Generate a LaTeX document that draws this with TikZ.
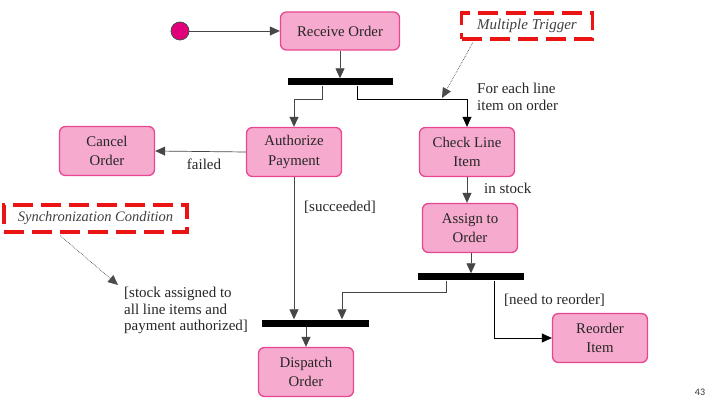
\documentclass[tikz,border=0pt]{standalone}
\usepackage{fontspec}
\setmainfont{Liberation Serif}
\newfontfamily\pagefont{Carlito}
\usepackage{tikz}
\usetikzlibrary{positioning, arrows.meta, calc}
\definecolor{actFill}{RGB}{245, 170, 206}
\definecolor{actLine}{RGB}{232, 70, 145}
\definecolor{startDot}{RGB}{226, 0, 122}
\definecolor{noteRed}{RGB}{235, 20, 20}
\definecolor{flowGray}{RGB}{70, 70, 70}

\begin{document}
\begin{tikzpicture}[
    x=1pt, y=-1pt,
    font=\fontsize{14.8}{19.5}\selectfont,
    actbox/.style={
        rectangle, rounded corners=6pt, draw=actLine, line width=1.3pt,
        fill=actFill, minimum width=95pt, minimum height=49pt,
        align=center, inner sep=2pt, text=black!85
    },
    syncbar/.style={rectangle, fill=black, inner sep=0pt, minimum height=7pt},
    notebox/.style={
        rectangle, draw=noteRed, line width=3.5pt, dash pattern=on 20pt off 8pt,
        font=\fontsize{15}{17}\selectfont\itshape, text=black!75, inner sep=0pt
    },
    lbl/.style={font=\fontsize{15}{16.5}\selectfont, text=black!85, inner sep=0pt, align=left},
    flow/.style={-{Triangle[length=10pt, width=9pt]}, line width=0.7pt, flowGray},
    hint/.style={-{Triangle[length=10pt, width=9pt]}, densely dotted, line width=0.7pt, black!70}
]
\useasboundingbox (0,0) rectangle (726,406);

% start and first action
\node[circle, draw=black!70, line width=0.8pt, fill=startDot, minimum size=18pt, inner sep=0pt] (start) at (180,31) {};
\node[actbox, minimum width=119pt, minimum height=38pt] (receive) at (340,31) {Receive Order};
\node[syncbar, minimum width=105pt] (fork1) at (340,82) {};

% actions
\node[actbox] (auth)     at (294,152) {Authorize\\Payment};
\node[actbox] (cancel)   at (107,151) {Cancel\\Order};
\node[actbox] (check)    at (467,152) {Check Line\\Item};
\node[actbox] (assign)   at (470,228) {Assign to\\Order};
\node[syncbar, minimum width=106pt] (fork2) at (471,277) {};
\node[actbox] (reorder)  at (600,338) {Reorder\\Item};
\node[syncbar, minimum width=107pt] (join3) at (315,323) {};
\node[actbox] (dispatch) at (306,372) {Dispatch\\Order};

% notes
\node[notebox, minimum width=131pt, minimum height=26pt] (multi) at (527,26) {Multiple Trigger};
\node[notebox, minimum width=183pt, minimum height=27pt, font=\fontsize{14.5}{17}\selectfont\itshape] (syncnote) at (95.5,218.5) {Synchronization Condition};
\coordinate (multitip) at (442,98);
\coordinate (synctip) at (118,285);

% labels
\node[lbl, anchor=north west] (foreach) at (477,83) {For each line\\item on order};
\node[lbl] (failed) at (204,164) {failed};
\node[lbl, anchor=west] (instock) at (484,188) {in stock};
\node[lbl, anchor=west] (succ) at (304,207) {[succeeded]};
\node[lbl, anchor=west] (need) at (504,300) {[need to reorder]};
\node[lbl, anchor=north west] (cond) at (124,287) {[stock assigned to\\all line items and\\payment authorized]};
\node[font=\pagefont\fontsize{10}{12}\selectfont, text=black!80] (page) at (700,392) {43};

% flows
\draw[flow] (start) -- (receive);
\draw[flow] (receive.south) -- (fork1.north);
\draw[flow] ($(fork1.south)+(-18,0)$) -- ++(0,14) -| (auth.north);
\draw[flow, black] ($(fork1.south)+(17,0)$) -- ++(0,14) -| (check.north);
\draw[flow] (auth.west) -- (cancel.east);
\draw[flow] (check.south) -- (check.south |- assign.north);
\draw[flow] (assign.south -| fork2.north) -- (fork2.north);
\draw[flow] ($(fork2.south)+(-25,0)$) -- ++(0,12) -| ($(join3.north)+(27,0)$);
\draw[flow, black] ($(fork2.south)+(23,0)$) |- (reorder.west);
\draw[flow] (auth.south) -- (auth.south |- join3.north);
\draw[flow] (join3.south -| dispatch.north) -- (dispatch.north);
\draw[hint] ($(multi.south west)+(13,2)$) -- (multitip);
\draw[hint] ($(syncnote.south west)+(58,2)$) -- (synctip);
\end{tikzpicture}
\end{document}
